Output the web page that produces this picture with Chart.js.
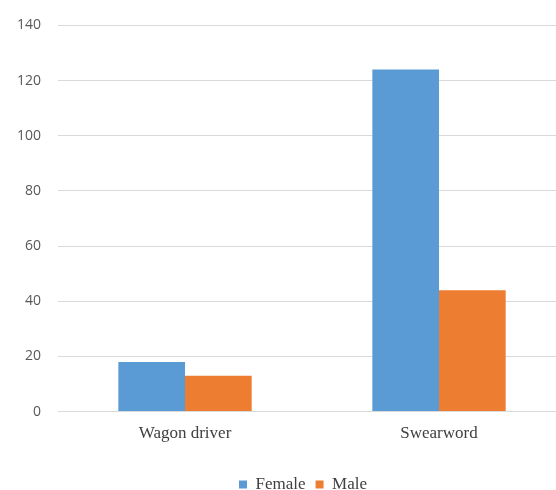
<!DOCTYPE html>
<html>
<head>
<meta charset="utf-8">
<script src="https://cdn.jsdelivr.net/npm/chart.js@4/dist/chart.umd.min.js"></script>
<style>
    html, body { margin: 0; padding: 0; background: #fff; overflow: hidden; }
    #wrap { width: 566px; height: 490px; position: relative; }
</style>
</head>
<body>
<div id="wrap"><canvas id="chart"></canvas></div>
<script>
// Counts per context, split by gender
const categories = ['Wagon driver', 'Swearword'];
const femaleValues = [18, 124];
const maleValues = [13, 44];
const yTicks = [0, 20, 40, 60, 80, 100, 120, 140];

const serif = '"Liberation Serif", "DejaVu Serif", serif';

// push the legend down to the bottom edge and a little right of centre
const legendShift = {
    id: 'legendShift',
    afterLayout(chart) {
        const lg = chart.legend;
        lg.left += 40;
        lg.top += 13;
        lg.bottom += 13;
    }
};

const ctx = document.getElementById('chart').getContext('2d');
new Chart(ctx, {
    type: 'bar',
    data: {
        labels: categories,
        datasets: [
            {
                label: 'Female',
                data: femaleValues,
                backgroundColor: '#5b9bd5',
                borderWidth: 0
            },
            {
                label: 'Male',
                data: maleValues,
                backgroundColor: '#ed7d31',
                borderWidth: 0
            }
        ]
    },
    plugins: [legendShift],
    options: {
        responsive: true,
        maintainAspectRatio: false,
        animation: false,
        layout: {
            padding: { top: 17, left: 0, right: 0, bottom: 0 }
        },
        datasets: {
            bar: {
                categoryPercentage: 0.525,
                barPercentage: 1.0
            }
        },
        scales: {
            x: {
                grid: { display: false },
                border: { display: true, color: '#d9d9d9' },
                afterFit: function(scale) {
                    scale.height += 5;
                },
                ticks: {
                    color: '#404040',
                    padding: 4,
                    font: { family: serif, size: 17 }
                }
            },
            y: {
                min: 0,
                max: 140,
                afterBuildTicks: function(axis) {
                    axis.ticks = yTicks.map(v => ({ value: v }));
                },
                grid: { color: '#d9d9d9', drawTicks: false },
                border: { display: false },
                ticks: {
                    color: '#595959',
                    padding: 17,
                    font: { family: '"Open Sans", "Liberation Sans", sans-serif', size: 14 }
                }
            }
        },
        plugins: {
            legend: {
                position: 'bottom',
                labels: {
                    color: '#404040',
                    boxWidth: 8,
                    boxHeight: 8,
                    padding: 10,
                    font: { family: serif, size: 17 }
                }
            },
            tooltip: { enabled: false }
        }
    }
});
</script>
</body>
</html>
